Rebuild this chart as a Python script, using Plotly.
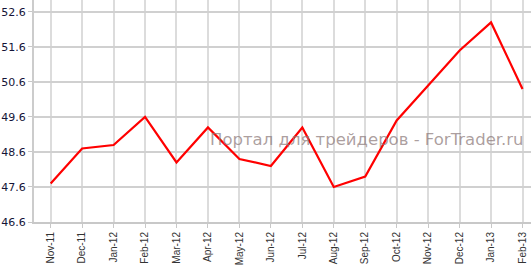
import plotly.graph_objects as go

months = ["Nov-11", "Dec-11", "Jan-12", "Feb-12", "Mar-12", "Apr-12", "May-12", "Jun-12",
          "Jul-12", "Aug-12", "Sep-12", "Oct-12", "Nov-12", "Dec-12", "Jan-13", "Feb-13"]
values = [47.7, 48.7, 48.8, 49.6, 48.3, 49.3, 48.4, 48.2,
          49.3, 47.6, 47.9, 49.5, 50.5, 51.5, 52.3, 50.4]
y_ticks = [46.6, 47.6, 48.6, 49.6, 50.6, 51.6, 52.6]
watermark = "Портал для трейдеров - ForTrader.ru"

fig = go.Figure()
fig.add_trace(go.Scatter(
    x=list(range(len(months))), y=values, mode="lines",
    line=dict(color="#ff0000", width=2.2), hoverinfo="skip", showlegend=False))

fig.update_layout(
    width=531, height=265,
    margin=dict(l=34, r=0, t=0, b=40),
    paper_bgcolor="white", plot_bgcolor="white",
    xaxis=dict(
        range=[-0.53, 15.27],
        tickmode="array", tickvals=list(range(len(months))), ticktext=months,
        tickangle=-90, tickfont=dict(family="Arial, Liberation Sans", size=10, color="#333333"),
        showgrid=True, gridcolor="#dcdcdc", gridwidth=2,
        showline=True, linecolor="#c8c8c8", linewidth=2,
        ticks="outside", ticklen=4, tickcolor="#c8c8c8", tickwidth=1,
        zeroline=False, fixedrange=True,
    ),
    yaxis=dict(
        range=[46.6, 52.94],
        tickmode="array", tickvals=y_ticks, ticktext=[f"{v:.1f}" for v in y_ticks],
        tickfont=dict(family="DejaVu Sans, Verdana", size=11, color="#141438"),
        showgrid=True, gridcolor="#d0d0d0", gridwidth=1.5,
        showline=True, linecolor="#cccccc", linewidth=2,
        ticks="outside", ticklen=4, tickcolor="#c8c8c8", tickwidth=1,
        zeroline=False, fixedrange=True,
    ),
    annotations=[dict(
        text=watermark, xref="paper", yref="paper", x=0.99, y=0.372,
        xanchor="right", yanchor="middle", showarrow=False,
        font=dict(family="DejaVu Sans, Verdana", size=16.5, color="rgba(140,122,122,0.72)"),
    )],
)

fig.write_html("out.html")
